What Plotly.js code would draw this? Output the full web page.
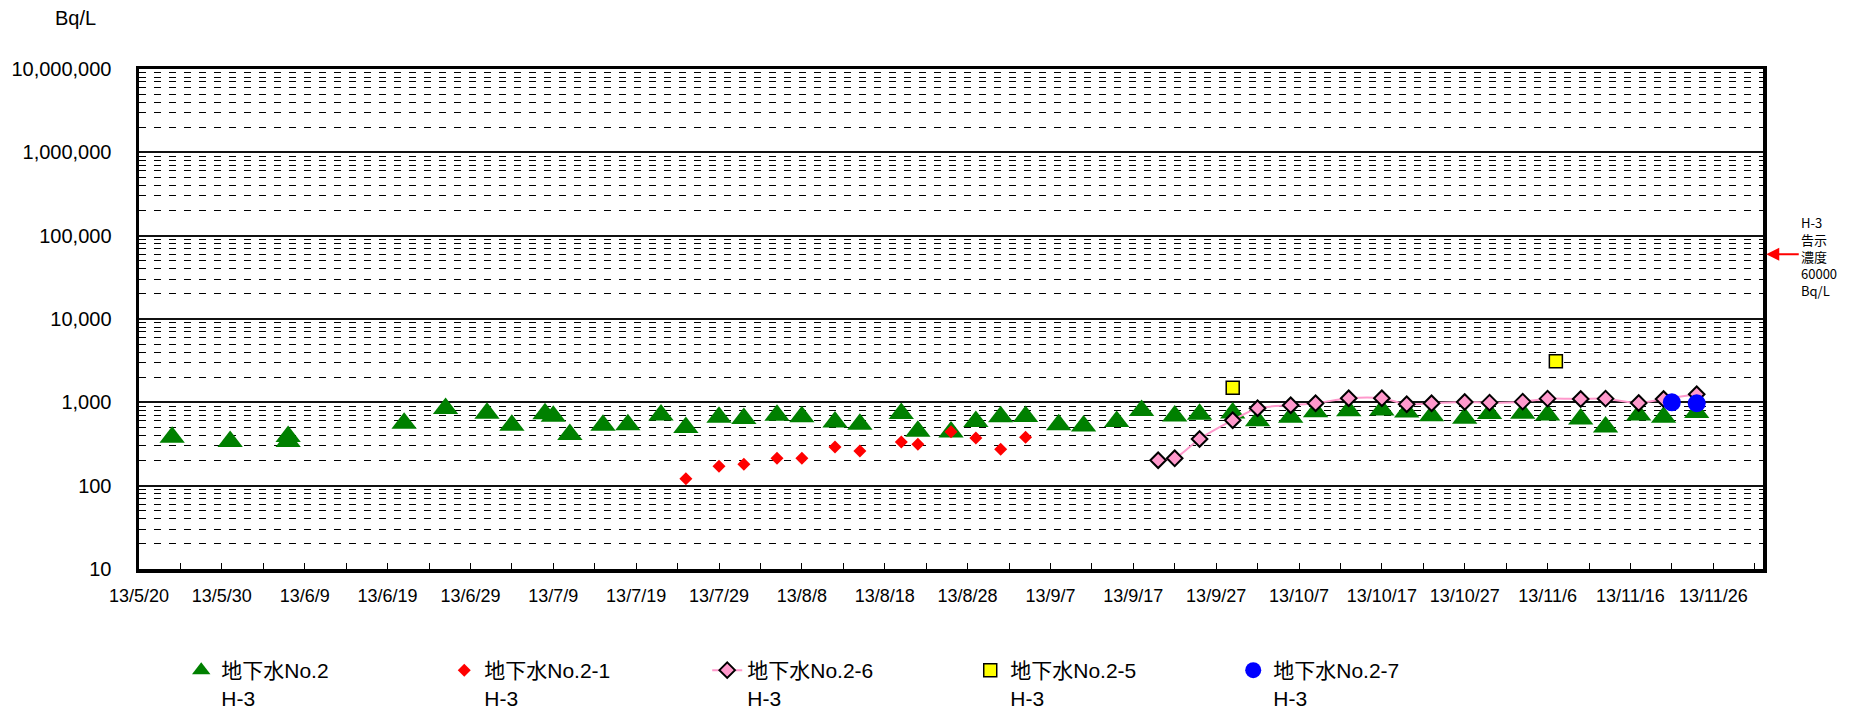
<!DOCTYPE html>
<html>
<head>
<meta charset="utf-8">
<script src="https://cdn.plot.ly/plotly-3.0.1.min.js"></script>
<style>html,body{margin:0;padding:0;background:#fff;}#chart{width:1854px;height:710px;}</style>
</head>
<body>
<div id="chart"></div>
<script>
// ---- data ----
var no2Dates = ['2013-05-24','2013-05-31','2013-06-07','2013-06-07','2013-06-21','2013-06-26','2013-07-01','2013-07-04','2013-07-08','2013-07-09',
  '2013-07-11','2013-07-15','2013-07-18','2013-07-22','2013-07-25','2013-07-29','2013-08-01','2013-08-05','2013-08-08','2013-08-12',
  '2013-08-15','2013-08-20','2013-08-22','2013-08-26','2013-08-29','2013-09-01','2013-09-04','2013-09-08','2013-09-11','2013-09-15',
  '2013-09-18','2013-09-22','2013-09-25','2013-09-29','2013-10-02','2013-10-06','2013-10-09','2013-10-13','2013-10-17','2013-10-20',
  '2013-10-23','2013-10-27','2013-10-30','2013-11-03','2013-11-06','2013-11-10','2013-11-13','2013-11-17','2013-11-20','2013-11-24'];
var no2Values = [380,340,390,340,560,845,740,530,730,680,
  410,530,540,705,500,660,640,700,670,580,
  545,735,450,440,590,670,675,540,520,590,
  800,685,720,745,600,660,770,790,810,766,
  690,645,735,740,705,630,505,705,660,755];

var no21Dates = ['2013-07-25','2013-07-29','2013-08-01','2013-08-05','2013-08-08','2013-08-12','2013-08-15','2013-08-20','2013-08-22','2013-08-26','2013-08-29','2013-09-01','2013-09-04'];
var no21Values = [121,171,181,213,213,291,261,334,314,444,373,273,381];

var no26Dates = ['2013-09-20','2013-09-22','2013-09-25','2013-09-29','2013-10-02','2013-10-06','2013-10-09','2013-10-13','2013-10-17','2013-10-20',
  '2013-10-23','2013-10-27','2013-10-30','2013-11-03','2013-11-06','2013-11-10','2013-11-13','2013-11-17','2013-11-20','2013-11-24'];
var no26Values = [202,213,363,610,849,922,975,1119,1119,948,
  975,1010,991,1019,1107,1097,1107,982,1097,1250];

var no25Dates = ['2013-09-29','2013-11-07'];
var no25Values = [1500,3110];

var no27Dates = ['2013-11-21','2013-11-24'];
var no27Values = [1000,975];

var seriesNames = ['地下水No.2<br>H-3','地下水No.2-1<br>H-3','地下水No.2-6<br>H-3','地下水No.2-5<br>H-3','地下水No.2-7<br>H-3'];

var xTickDates = ['2013-05-20','2013-05-30','2013-06-09','2013-06-19','2013-06-29','2013-07-09','2013-07-19','2013-07-29','2013-08-08','2013-08-18',
  '2013-08-28','2013-09-07','2013-09-17','2013-09-27','2013-10-07','2013-10-17','2013-10-27','2013-11-06','2013-11-16','2013-11-26'];
var xTickLabels = ['13/5/20','13/5/30','13/6/9','13/6/19','13/6/29','13/7/9','13/7/19','13/7/29','13/8/8','13/8/18',
  '13/8/28','13/9/7','13/9/17','13/9/27','13/10/7','13/10/17','13/10/27','13/11/6','13/11/16','13/11/26'];
var yTickVals = [10,100,1000,10000,100000,1000000,10000000];
var yTickLabels = ['10','100','1,000','10,000','100,000','1,000,000','10,000,000'];

var limitValue = 60000;
var limitText = 'H-3<br>告示<br>濃度<br>60000<br>Bq/L';
var unitText = 'Bq/L';

// ---- chart ----
var FONT = 'Liberation Sans, Arial, "Noto Sans CJK JP", sans-serif';

var traces = [
  {x: no2Dates, y: no2Values, name: seriesNames[0], type: 'scatter', mode: 'markers',
   marker: {symbol: 'triangle-up', size: 22, color: '#008000'}},
  {x: no21Dates, y: no21Values, name: seriesNames[1], type: 'scatter', mode: 'markers',
   marker: {symbol: 'diamond', size: 10, color: '#FF0000'}},
  {x: no26Dates, y: no26Values, name: seriesNames[2], type: 'scatter', mode: 'lines+markers',
   line: {color: '#FF99CC', width: 2, shape: 'spline', smoothing: 0.8},
   marker: {symbol: 'diamond', size: 12, color: '#FF99CC', line: {color: '#000', width: 2}}},
  {x: no25Dates, y: no25Values, name: seriesNames[3], type: 'scatter', mode: 'markers',
   marker: {symbol: 'square', size: 13, color: '#FFFF00', line: {color: '#000', width: 1.5}}},
  {x: no27Dates, y: no27Values, name: seriesNames[4], type: 'scatter', mode: 'markers',
   marker: {symbol: 'circle', size: 18, color: '#0000FF'}}
];

var layout = {
  width: 1854, height: 710,
  margin: {l: 139, r: 91, t: 69, b: 141, autoexpand: false},
  paper_bgcolor: '#fff', plot_bgcolor: '#fff',
  font: {family: FONT, color: '#000', size: 18},
  showlegend: true,
  xaxis: {
    type: 'date', range: ['2013-05-20', '2013-12-02'],
    tickmode: 'array', tickvals: xTickDates, ticktext: xTickLabels,
    ticks: 'inside', ticklen: 6, tickwidth: 1, tickcolor: '#000',
    tickfont: {size: 18, family: FONT},
    ticklabelstandoff: 8,
    minor: {tickmode: 'linear', tick0: '2013-05-20', dtick: 5 * 86400000, ticks: 'inside', ticklen: 6, tickwidth: 1, tickcolor: '#000', showgrid: false},
    showgrid: false, zeroline: false,
    showline: true, linecolor: '#000', linewidth: 3.5, mirror: true
  },
  yaxis: {
    type: 'log', range: [1, 7],
    tickmode: 'array', tickvals: yTickVals, ticktext: yTickLabels,
    ticks: '', tickfont: {size: 20, family: FONT},
    ticklabelstandoff: 20,
    showgrid: true, gridcolor: '#111', gridwidth: 2,
    minor: {dtick: 'D1', showgrid: true, gridcolor: '#000', gridwidth: 1, griddash: '7px,8px', ticks: ''},
    zeroline: false,
    showline: true, linecolor: '#000', linewidth: 3.5, mirror: true
  },
  legend: {
    orientation: 'h', x: 0.026, xanchor: 'left', y: -0.162, yanchor: 'top',
    entrywidth: 218, entrywidthmode: 'pixels', valign: 'top',
    font: {size: 21, family: FONT}, bgcolor: 'rgba(0,0,0,0)', traceorder: 'normal'
  },
  annotations: [
    {text: unitText, xref: 'paper', yref: 'paper', x: -0.0394, y: 1.102, xanchor: 'center', yanchor: 'middle',
     showarrow: false, font: {size: 20, family: FONT}},
    {text: limitText, xref: 'paper', yref: 'paper', x: 1.022, y: 0.626, xanchor: 'left', yanchor: 'middle', align: 'left',
     showarrow: false, font: {size: 13, family: '"Noto Sans CJK JP", sans-serif'}},
    {text: '', xref: 'paper', yref: 'y', x: 1.002, y: Math.log10(limitValue), showarrow: true,
     ax: 34, ay: 0, axref: 'pixel', ayref: 'pixel', arrowhead: 2, arrowsize: 1.3, arrowwidth: 2, arrowcolor: '#FF0000', standoff: 0}
  ]
};

Plotly.newPlot('chart', traces, layout, {staticPlot: true, displayModeBar: false});
</script>
</body>
</html>
